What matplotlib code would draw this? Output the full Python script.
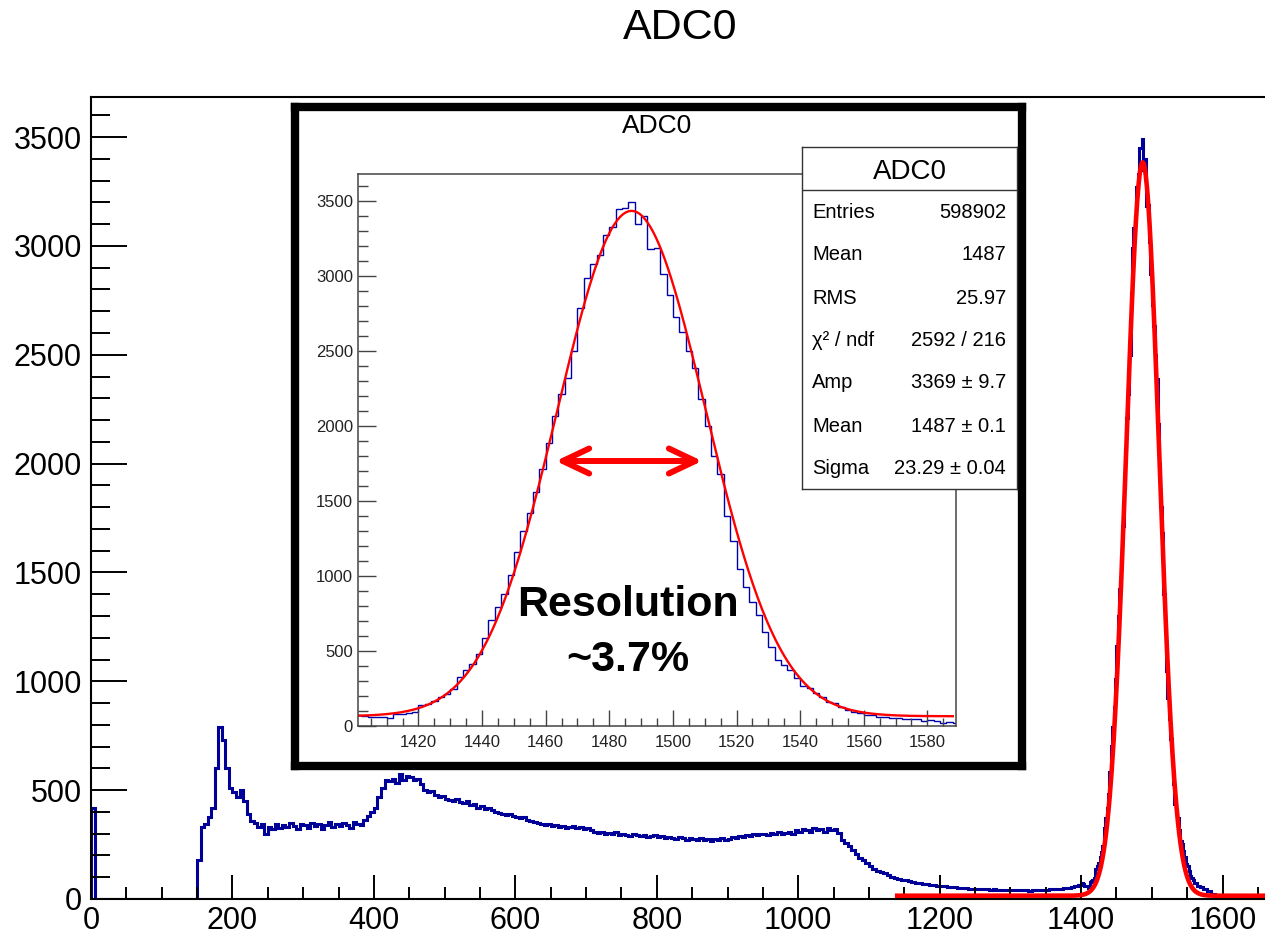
import numpy as np
import matplotlib
matplotlib.use('Agg')
import matplotlib.pyplot as plt
from matplotlib.patches import FancyArrowPatch

# ---- data ----
# coarse bins (width 5) from 0 to 1400
bg_counts = [
    420, 0, 0, 0, 0, 0, 0, 0, 0, 0, 0, 0, 0, 0, 0, 0, 0, 0, 0, 0,
    0, 0, 0, 0, 0, 0, 0, 0, 0, 0,
    180, 330, 345, 375, 420, 600, 790, 730, 600, 510,
    490, 470, 500, 450, 390, 360, 350, 330, 345, 300,
    330, 320, 345, 325, 340, 330, 350, 335, 320, 345,
    340, 325, 350, 335, 345, 320, 340, 355, 330, 345,
    335, 350, 340, 325, 355, 345, 340, 365, 380, 400,
    420, 470, 510, 545, 540, 550, 535, 575, 545, 565,
    560, 545, 550, 530, 500, 490, 495, 480, 470, 475,
    460, 455, 450, 460, 445, 440, 450, 430, 435, 420,
    425, 415, 420, 410, 400, 395, 390, 385, 390, 380,
    375, 370, 375, 365, 360, 355, 350, 345, 340, 345,
    335, 340, 330, 335, 325, 330, 335, 325, 330, 320,
    325, 315, 310, 305, 310, 300, 305, 300, 310, 295,
    300, 295, 290, 300, 295, 290, 295, 285, 290, 295,
    285, 290, 280, 285, 280, 275, 285, 280, 270, 280,
    275, 270, 280, 270, 275, 265, 275, 270, 280, 270,
    275, 285, 280, 290, 285, 295, 290, 300, 295, 300,
    300, 295, 305, 300, 310, 300, 305, 310, 300, 315,
    310, 320, 315, 310, 325, 315, 320, 310, 325, 315,
    320, 305, 270, 255, 245, 225, 205, 190, 180, 165,
    150, 140, 130, 125, 120, 110, 100, 95, 90, 88,
    85, 82, 80, 75, 72, 70, 68, 65, 63, 62,
    60, 58, 57, 55, 53, 52, 50, 50, 48, 47,
    47, 45, 45, 44, 43, 44, 42, 43, 41, 42,
    41, 40, 42, 40, 41, 39, 41, 40, 42, 41,
    43, 44, 45, 46, 48, 50, 52, 55, 60, 66,
]
# fine bins (width 2) from 1400 to 1590
peak_counts = [
    73, 70, 60, 62, 60, 52, 78, 82, 88, 95,
    140, 150, 165, 195, 215, 245, 327, 372, 416, 482,
    584, 704, 792, 881, 1010, 1160, 1301, 1423, 1560, 1713,
    1890, 2065, 2211, 2320, 2500, 2785, 2990, 3080, 3139, 3272,
    3330, 3448, 3452, 3492, 3349, 3399, 3182, 3190, 3016, 2873,
    2729, 2630, 2500, 2390, 2180, 2000, 1800, 1680, 1400, 1235,
    1048, 925, 825, 737, 626, 527, 438, 405, 372, 319,
    268, 252, 219, 195, 161, 153, 128, 106, 95, 86,
    73, 73, 62, 62, 53, 53, 46, 46, 46, 35,
    38, 35, 22, 25, 22,
]
# coarse bins (width 5) from 1590 on
tail_counts = [15, 10, 8, 6, 5, 5, 4, 4, 3, 3, 3, 2, 2, 2, 2]

# gaussian fit parameters from the stats box
fit_amp, fit_mean, fit_sigma = 3369, 1487, 23.29
fit_base_main = 15
fit_base_inset = 65

stat_labels = ['Entries', 'Mean', 'RMS', 'χ² / ndf', 'Amp', 'Mean', 'Sigma']
stat_values = ['598902', '1487', '25.97', '2592 / 216', '3369 ± 9.7',
               '1487 ± 0.1', '23.29 ± 0.04']

# ---- build histogram ----
edges = np.concatenate([np.arange(0, 1400, 5), np.arange(1400, 1590, 2),
                        np.arange(1590, 1666, 5)]).astype(float)
counts = np.array(bg_counts + peak_counts + tail_counts, dtype=float)


def fit(x, base):
    return fit_amp * np.exp(-(x - fit_mean) ** 2 / (2 * fit_sigma ** 2)) + base


W, H = 1265, 935
fig = plt.figure(figsize=(W / 100, H / 100), dpi=100)
reg = ['Liberation Sans', 'DejaVu Sans']
blue = '#000099'


def px(x, y):
    return x / W, 1 - y / H


# ---- main plot ----
ax = fig.add_axes([91 / W, 1 - 899 / H, (W - 91) / W, (899 - 97) / H])
ax.stairs(counts, edges, color=blue, lw=2.2)
xf = np.linspace(1140, 1665, 600)
ax.plot(xf, fit(xf, fit_base_main), color='red', lw=3.3)
ax.set_xlim(0, 1660)
ax.set_ylim(0, 3684)
ax.set_xticks(np.arange(0, 1601, 200))
ax.set_xticks(np.arange(0, 1660, 50), minor=True)
ax.set_yticks(np.arange(0, 3501, 500))
ax.set_yticks(np.arange(0, 3684, 100), minor=True)
ax.tick_params(axis='both', which='both', direction='in', width=1.4, color='black')
ax.tick_params(axis='y', which='major', length=26, pad=6.5)
ax.tick_params(axis='y', which='minor', length=14)
ax.tick_params(axis='x', which='major', length=17, pad=5)
ax.tick_params(axis='x', which='minor', length=9)
for lab in ax.get_xticklabels() + ax.get_yticklabels():
    lab.set_fontfamily(reg)
    lab.set_fontsize(22)
for s in ['left', 'bottom', 'top']:
    ax.spines[s].set_linewidth(1.5)
ax.spines['right'].set_visible(False)
fig.text(*px(680, 28), 'ADC0', ha='center', va='center', fontsize=31, family=reg)

# ---- inset frame ----
frame = fig.add_axes([295 / W, 1 - 766 / H, (1022 - 295) / W, (766 - 107) / H])
frame.set_facecolor('white')
frame.set_xticks([])
frame.set_yticks([])
for s in frame.spines.values():
    s.set_linewidth(6)
    s.set_color('black')

# ---- inset plot ----
ins = fig.add_axes([358 / W, 1 - 726 / H, (956 - 358) / W, (726 - 174) / H])
ins.stairs(counts, edges, color='#0000aa', lw=1.0)
xi = np.linspace(1401, 1588, 400)
ins.plot(xi, fit(xi, fit_base_inset), color='red', lw=1.7)
ins.set_xlim(1401, 1589)
ins.set_ylim(0, 3680)
ins.set_xticks(np.arange(1420, 1581, 20))
ins.set_xticks(np.arange(1405, 1589, 5), minor=True)
ins.set_yticks(np.arange(0, 3501, 500))
ins.set_yticks(np.arange(0, 3680, 100), minor=True)
gc = '#444444'
ins.tick_params(axis='both', which='both', direction='in', width=1.0, color=gc)
ins.tick_params(axis='y', which='major', length=13, pad=3.6)
ins.tick_params(axis='y', which='minor', length=7)
ins.tick_params(axis='x', which='major', length=11.5, pad=6.5)
ins.tick_params(axis='x', which='minor', length=6)
for lab in ins.get_xticklabels() + ins.get_yticklabels():
    lab.set_fontfamily(reg)
    lab.set_fontsize(12)
    lab.set_color('#222222')
for s in ins.spines.values():
    s.set_linewidth(1.1)
    s.set_color(gc)
fig.text(*px(657, 126), 'ADC0', ha='center', va='center', fontsize=19, family=reg)

# ---- stats box ----
sb = fig.add_axes([802 / W, 1 - 489 / H, (1017 - 802) / W, (489 - 147) / H])
sb.set_facecolor('white')
sb.set_xticks([])
sb.set_yticks([])
sb.set_xlim(0, 1)
sb.set_ylim(0, 1)
for s in sb.spines.values():
    s.set_linewidth(1.0)
    s.set_color('#333333')
sb.axhline((489 - 190) / (489 - 147), color='#333333', lw=1.0)
fig.text(*px(910, 172), 'ADC0', ha='center', va='center', fontsize=20, family=reg)
row_y = [212, 255, 298, 341, 383, 427, 469]
for yy, lab, val in zip(row_y, stat_labels, stat_values):
    fig.text(*px(812, yy), lab, ha='left', va='center', fontsize=14.5, family=reg)
    fig.text(*px(1006, yy), val, ha='right', va='center', fontsize=14.5, family=reg)

# ---- annotation ----
arr = FancyArrowPatch(px(553, 461), px(705, 461), transform=fig.transFigure,
                      arrowstyle='<->,head_length=0.95,head_width=0.45',
                      mutation_scale=20, color='red', lw=4.3,
                      capstyle='round', joinstyle='round')
fig.patches.append(arr)
fig.text(*px(628, 605), 'Resolution', ha='center', va='center', fontsize=31,
         fontweight='bold', family=reg)
fig.text(*px(628, 660), '~3.7%', ha='center', va='center', fontsize=31,
         fontweight='bold', family=reg)

fig.savefig('out.png', dpi=100)
